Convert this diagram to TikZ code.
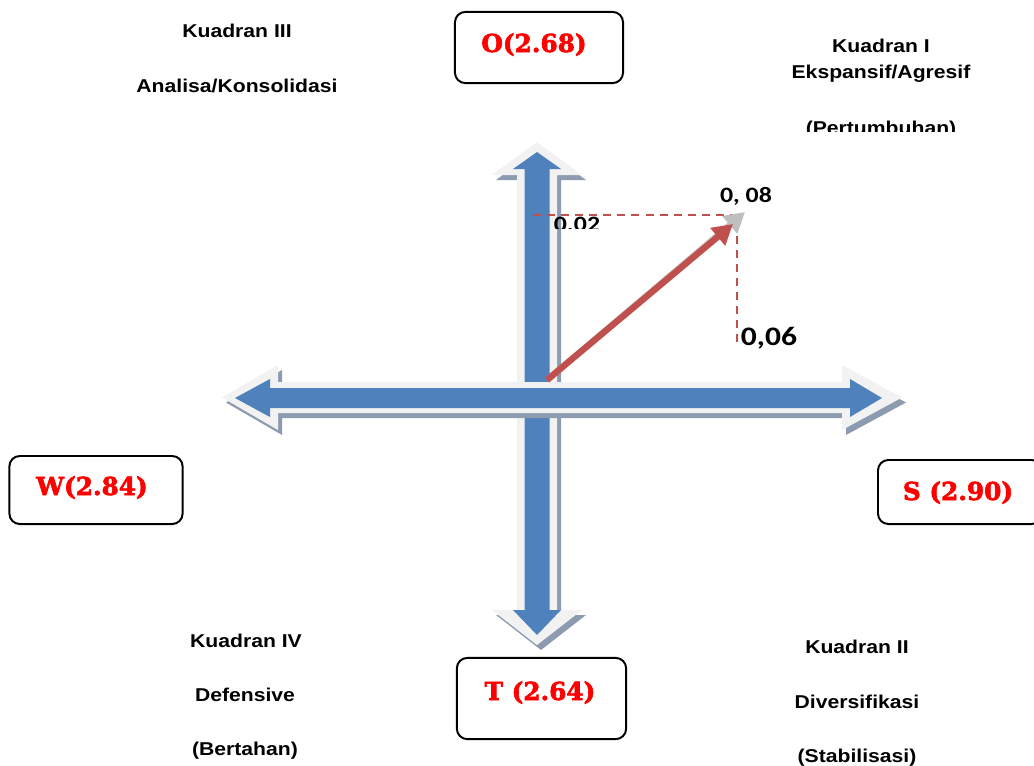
\documentclass[tikz,border=0pt]{standalone}
\usepackage{fontspec}
\setmainfont{Liberation Sans}
\newfontfamily\calibfont{Carlito}
\newfontfamily\slabfont{DejaVu Serif}[BoldFeatures={FakeBold=2.5}]
\usetikzlibrary{arrows.meta}
\definecolor{swotblue}{HTML}{4F81BD}
\definecolor{swotedge}{HTML}{F2F2F2}
\definecolor{swotshade}{HTML}{8D9BB0}
\definecolor{swotred}{HTML}{C0504D}
\definecolor{labred}{HTML}{FF0000}
\tikzset{
  quadtext/.style={anchor=base,xscale=1.14,inner sep=0pt,font=\fontsize{13.2}{16}\selectfont\bfseries},
  valtext/.style={anchor=base,xscale=1.18,inner sep=0pt,font=\calibfont\fontsize{15.6}{18}\selectfont\bfseries},
  swotbox/.style={draw=black,line width=1.4pt,rounded corners=0.26cm,inner sep=0pt},
  swottext/.style={anchor=base,inner sep=0pt,text=labred,font=\slabfont\fontsize{17.6}{20}\selectfont\bfseries},
  guide/.style={draw=swotred,line width=1.4pt,dash pattern=on 5.7pt off 4.3pt},
}
\begin{document}
\begin{tikzpicture}[x=0.025cm,y=-0.025cm]
		\useasboundingbox (0,0) rectangle (1034,765);
		% vertical arrow
		\fill[swotshade,shift={(4,5)}] (537,142) -- (582,175) -- (557,175) -- (557,610) -- (582,610) -- (537,645) -- (492,610) -- (517,610) -- (517,175) -- (492,175) -- cycle;
		\fill[swotedge] (537,142) -- (582,175) -- (557,175) -- (557,610) -- (582,610) -- (537,645) -- (492,610) -- (517,610) -- (517,175) -- (492,175) -- cycle;
		\fill[swotblue] (537,152) -- (561,169) -- (549.5,169) -- (549.5,610) -- (561,610) -- (537,635) -- (513,610) -- (524.5,610) -- (524.5,169) -- (513,169) -- cycle;
		% horizontal arrow
		\fill[swotshade,shift={(4,5)}] (222,397.5) -- (278,365) -- (278,382) -- (842,382) -- (842,365) -- (902,397.5) -- (842,430) -- (842,413) -- (278,413) -- (278,430) -- cycle;
		\fill[swotedge] (222,397.5) -- (278,365) -- (278,382) -- (842,382) -- (842,365) -- (902,397.5) -- (842,430) -- (842,413) -- (278,413) -- (278,430) -- cycle;
		\fill[swotblue] (235,398) -- (270,379) -- (270,388) -- (850,388) -- (850,379) -- (882,398) -- (850,417) -- (850,408) -- (270,408) -- (270,417) -- cycle;
		% position vector
		\coordinate (orig) at (547,380);
		\coordinate (tipr) at (733,224);
		\coordinate (tipg) at (745,212);
		\coordinate (dl) at (533,215);
		\coordinate (dc) at (737,215);
		\coordinate (dd) at (737,345);
		\draw[guide] (dl) -- (dc) -- (dd);
		\draw[line width=0.15cm,color=black!25,-{Triangle[length=0.5cm,width=0.55cm]}] (orig) -- (tipg);
		\draw[line width=0.16cm,color=swotred,-{Triangle[length=0.5cm,width=0.55cm]}] (orig) -- (tipr);
		\node[valtext] (v08) at (746,202) {0, 08};
		\node[valtext,font=\calibfont\fontsize{19}{22}\selectfont\bfseries] (v06) at (769,345) {0,06};
		\begin{scope}
			\clip (540,200) rectangle (620,228);
			\node[valtext] (v02) at (577,231) {0.02};
		\end{scope}
		% SWOT boxes
		\node[swotbox,minimum width=4.2cm,minimum height=1.78cm] (boxO) at (539,47.5) {};
		\node[swotbox,minimum width=4.33cm,minimum height=1.7cm] (boxW) at (96,490) {};
		\node[swotbox,minimum width=4.1cm,minimum height=1.6cm] (boxS) at (960,492) {};
		\node[swotbox,minimum width=4.23cm,minimum height=2.03cm] (boxT) at (541.5,698.5) {};
		\node[swottext] (labO) at (534,52) {O(2.68)};
		\node[swottext] (labW) at (92,495) {W(2.84)};
		\node[swottext] (labS) at (958,500) {S (2.90)};
		\node[swottext] (labT) at (540,700) {T (2.64)};
		% quadrant texts
		\node[quadtext] (q3a) at (237,37) {Kuadran III};
		\node[quadtext] (q3b) at (237,92) {Analisa/Konsolidasi};
		\node[quadtext] (q1a) at (881,52) {Kuadran I};
		\node[quadtext] (q1b) at (881,78) {Ekspansif/Agresif};
		\begin{scope}
			\clip (780,100) rectangle (990,131);
			\node[quadtext] (q1c) at (881,134) {(Pertumbuhan)};
		\end{scope}
		\node[quadtext] (q4a) at (246,647) {Kuadran IV};
		\node[quadtext] (q4b) at (245,701) {Defensive};
		\node[quadtext] (q4c) at (245,755) {(Bertahan)};
		\node[quadtext] (q2a) at (857,653) {Kuadran II};
		\node[quadtext] (q2b) at (857,708) {Diversifikasi};
		\node[quadtext] (q2c) at (857,762) {(Stabilisasi)};
	\end{tikzpicture}
\end{document}
